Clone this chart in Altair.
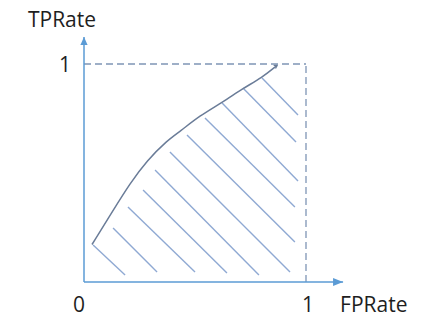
import altair as alt
import pandas as pd

# ---- data ----
curve_fpr = [0.036, 0.131, 0.207, 0.284, 0.374, 0.432, 0.523, 0.622, 0.716, 0.802, 0.870]
curve_tpr = [0.172, 0.328, 0.452, 0.557, 0.649, 0.690, 0.764, 0.823, 0.888, 0.938, 0.994]

hatch_x1 = [0.041, 0.131, 0.198, 0.266, 0.320, 0.387, 0.464, 0.545, 0.622, 0.716, 0.802]
hatch_y1 = [0.170, 0.248, 0.344, 0.422, 0.514, 0.596, 0.674, 0.752, 0.821, 0.890, 0.936]
hatch_x2 = [0.185, 0.329, 0.500, 0.644, 0.788, 0.928, 0.950, 0.950, 0.964, 0.955, 0.964]
hatch_y2 = [0.032, 0.046, 0.046, 0.041, 0.032, 0.046, 0.183, 0.344, 0.463, 0.642, 0.766]

x_tick_values = [0, 1]
x_tick_labels = ["0", "1"]
y_tick_values = [1]
y_tick_labels = ["1"]
x_title = "FPRate"
y_title = "TPRate"
x_axis_end = 1.167
y_axis_end = 1.124

# ---- frame ----
X_DOMAIN = [-84 / 222, 342 / 222]
Y_DOMAIN = [(282 - 330) / 218, 282 / 218]
xs = alt.Scale(domain=X_DOMAIN, nice=False, zero=False)
ys = alt.Scale(domain=Y_DOMAIN, nice=False, zero=False)

AXIS_COLOR = "#5B9BD5"
DASH_COLOR = "#7F95B5"
CURVE_COLOR = "#6A7C98"
HATCH_COLOR = "#8FA9D3"
TEXT_COLOR = "#1E1E1E"
FONT = "Open Sans"
FS = 21

curve_df = pd.DataFrame({"fpr": curve_fpr, "tpr": curve_tpr})
hatch_df = pd.DataFrame({"x1": hatch_x1, "y1": hatch_y1, "x2": hatch_x2, "y2": hatch_y2})
xt_df = pd.DataFrame({"v": x_tick_values, "t": x_tick_labels})
yt_df = pd.DataFrame({"v": y_tick_values, "t": y_tick_labels})
axes_df = pd.DataFrame({"x1": [0, 0], "y1": [0, 0],
                        "x2": [x_axis_end, 0], "y2": [0, y_axis_end]})
box_df = pd.DataFrame({"x1": [0, 1], "y1": [1, 0], "x2": [1, 1], "y2": [1, 1]})

X = lambda f: alt.X(f, type="quantitative", scale=xs, axis=None)
Y = lambda f: alt.Y(f, type="quantitative", scale=ys, axis=None)

# dashed box
box = alt.Chart(box_df).mark_rule(color=DASH_COLOR, strokeWidth=1.3, strokeDash=[7, 4]).encode(
    x=X("x1"), y=Y("y1"), x2="x2", y2="y2")

# hatch lines
hatch = alt.Chart(hatch_df).mark_rule(color=HATCH_COLOR, strokeWidth=1.4).encode(
    x=X("x1"), y=Y("y1"), x2="x2", y2="y2")

# axes
axes = alt.Chart(axes_df).mark_rule(color=AXIS_COLOR, strokeWidth=1.5).encode(
    x=X("x1"), y=Y("y1"), x2="x2", y2="y2")

x_arrow = alt.Chart(pd.DataFrame({"x": [x_axis_end], "y": [0]})).mark_point(
    shape="M0,0 L-5,-2 L-5,2 Z", size=16, filled=True, color=AXIS_COLOR, opacity=1,
    strokeWidth=0).encode(x=X("x"), y=Y("y"))
y_arrow = alt.Chart(pd.DataFrame({"x": [0], "y": [y_axis_end]})).mark_point(
    shape="M0,0 L1.8,4 L-1.8,4 Z", size=16, filled=True, color=AXIS_COLOR, opacity=1,
    strokeWidth=0).encode(x=X("x"), y=Y("y"))

# curve
curve = alt.Chart(curve_df).mark_line(color=CURVE_COLOR, strokeWidth=1.5, interpolate="basis").encode(
    x=X("fpr"), y=Y("tpr"), order=alt.Order("fpr:Q"))
curve_end = alt.Chart(curve_df.tail(1)).mark_point(
    shape="M-3,-1.8 L0,0 L-3,1.8", size=4, filled=False, color=CURVE_COLOR, opacity=1,
    strokeWidth=1.2, angle=328).encode(x=X("fpr"), y=Y("tpr"))

text_kw = dict(font=FONT, fontSize=FS, color=TEXT_COLOR, baseline="alphabetic")

xt0 = alt.Chart(xt_df[xt_df.v == 0]).mark_text(align="center", dx=-5, dy=30, **text_kw).encode(
    x=X("v"), y=alt.Y(datum=0, type="quantitative", scale=ys, axis=None), text="t:N")
xt1 = alt.Chart(xt_df[xt_df.v == 1]).mark_text(align="center", dx=2, dy=30, **text_kw).encode(
    x=X("v"), y=alt.Y(datum=0, type="quantitative", scale=ys, axis=None), text="t:N")
yt = alt.Chart(yt_df).mark_text(align="center", dx=-19, dy=8, **text_kw).encode(
    x=alt.X(datum=0, type="quantitative", scale=xs, axis=None), y=Y("v"), text="t:N")

xtitle = alt.Chart(pd.DataFrame({"t": [x_title], "x": [x_axis_end], "y": [0]})).mark_text(
    align="left", dx=-3, dy=30, **text_kw).encode(x=X("x"), y=Y("y"), text="t:N")
ytitle = alt.Chart(pd.DataFrame({"t": [y_title], "x": [0], "y": [y_axis_end]})).mark_text(
    align="center", dx=-22, dy=-9.5, **text_kw).encode(x=X("x"), y=Y("y"), text="t:N")

chart = alt.layer(box, hatch, axes, x_arrow, y_arrow, curve, curve_end,
                  xt0, xt1, yt, xtitle, ytitle).properties(
    width=426, height=330, padding=0, autosize=alt.AutoSizeParams(type="none"),
    background="white"
).configure_view(stroke=None)

chart.save("out.html", embed_options={"renderer": "svg", "actions": False})
